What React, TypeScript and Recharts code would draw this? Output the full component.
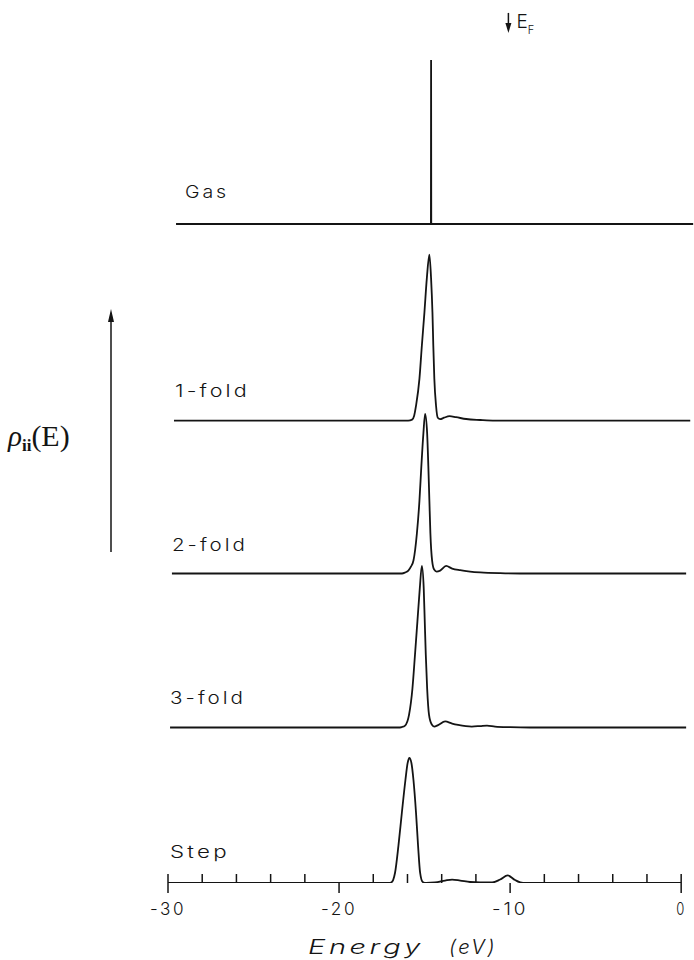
import { LineChart, Line, XAxis, YAxis, ReferenceLine } from "recharts";

// Local density of states rho_ii(E) of the adsorbate level, arbitrary units, vs energy (eV)
const GAS = [[-29.53, 0], [-14.63, 0], [-14.62, 10.0], [-14.61, 0], [0.7, 0]];
const ONE_FOLD = [
  [-29.65, 0], [-15.96, 0], [-15.73, 0.06], [-15.61, 0.3], [-15.5, 0.91], [-15.3, 2.56],
  [-15.16, 4.57], [-15.01, 6.59], [-14.87, 8.66], [-14.72, 10.12], [-14.62, 8.66],
  [-14.54, 6.59], [-14.49, 4.57], [-14.43, 2.56], [-14.33, 0.91], [-14.23, 0.18],
  [-14.09, 0.09], [-13.86, 0.18], [-13.54, 0.27], [-13.16, 0.21], [-12.57, 0.1],
  [-11.75, 0.04], [-10.88, 0], [0.53, 0],
];
const TWO_FOLD = [
  [-29.77, 0], [-16.32, 0], [-16.14, 0.06], [-15.95, 0.18], [-15.79, 0.43], [-15.65, 0.79],
  [-15.45, 2.44], [-15.3, 4.45], [-15.19, 6.52], [-15.07, 8.54], [-14.97, 9.73],
  [-14.85, 8.54], [-14.78, 6.52], [-14.72, 4.45], [-14.66, 2.44], [-14.56, 0.79],
  [-14.44, 0.24], [-14.3, 0.12], [-14.09, 0.18], [-13.74, 0.46], [-13.39, 0.3],
  [-12.92, 0.2], [-12.34, 0.12], [-11.75, 0.07], [-10.58, 0.02], [-9.42, 0], [0.29, 0],
];
const THREE_FOLD = [
  [-29.88, 0], [-16.55, 0], [-16.33, 0.03], [-16.14, 0.12], [-15.91, 0.77], [-15.71, 2.38],
  [-15.56, 4.45], [-15.42, 6.46], [-15.28, 8.48], [-15.16, 9.85], [-15.05, 8.48],
  [-14.99, 6.46], [-14.93, 4.45], [-14.85, 2.38], [-14.74, 0.77], [-14.58, 0.18],
  [-14.44, 0.06], [-14.21, 0.15], [-13.8, 0.37], [-13.39, 0.24], [-13.04, 0.16],
  [-12.24, 0.06], [-11.75, 0.09], [-11.35, 0.12], [-10.88, 0.06], [-10.0, 0.02],
  [-8.83, 0], [0.29, 0],
];
const STEP = [
  [-30, 0], [-17.13, 0], [-16.96, 0.03], [-16.84, 0.18], [-16.73, 0.61], [-16.53, 2.26],
  [-16.33, 4.27], [-16.12, 6.28], [-15.99, 7.32], [-15.89, 7.62], [-15.77, 7.32],
  [-15.65, 6.28], [-15.5, 4.27], [-15.38, 2.26], [-15.26, 0.61], [-15.11, 0.06],
  [-14.91, 0], [-14.39, 0.03], [-13.8, 0.15], [-13.39, 0.21], [-12.92, 0.15],
  [-12.34, 0.06], [-11.75, 0.03], [-11.05, 0.03], [-10.58, 0.21], [-10.14, 0.46],
  [-9.71, 0.18], [-9.24, 0], [0, 0],
];

const SITES = ["Gas", "1-fold", "2-fold", "3-fold", "Step"];
const CURVES = [GAS, ONE_FOLD, TWO_FOLD, THREE_FOLD, STEP];
// vertical offset of each curve in the stack
const OFFSETS = [40.18, 28.19, 18.87, 9.48, 0];

const ENERGY_TICKS = [-30, -28, -26, -24, -22, -20, -18, -16, -14, -12, -10, -8, -6, -4, -2, 0];
const LABELED_TICKS = [-30, -20, -10, 0];
const FERMI_LEVEL = -10.1;

const INK = "#141414";
const PLOT_FONT = "Inter, 'DejaVu Sans', sans-serif";

const series = CURVES.map((pts, i) => ({
  name: SITES[i],
  data: pts.map(([e, v]) => ({ e, y: v + OFFSETS[i] })),
}));

// thin, wide plotter lettering: each string stretched to its run length
const LABEL_BOX: Record<string, { dx: number; dy: number; len: number }> = {
  Gas: { dx: 9, dy: -26, len: 44 },
  "1-fold": { dx: 1, dy: -24, len: 75 },
  "2-fold": { dx: 0, dy: -23, len: 76 },
  "3-fold": { dx: 0, dy: -24, len: 76 },
  Step: { dx: 2, dy: -25, len: 60 },
};

const lettering = {
  fontFamily: PLOT_FONT,
  fontWeight: 300,
  fill: INK,
  letterSpacing: 2.5,
  lengthAdjust: "spacingAndGlyphs",
} as const;

function SiteLabel(props: any) {
  const { x, y, index, name } = props;
  if (index !== 0) return null;
  const b = LABEL_BOX[name];
  return (
    <text x={x + b.dx} y={y + b.dy} fontSize={17} textLength={b.len} {...lettering}>
      {name}
    </text>
  );
}

function EnergyTick(props: any) {
  const { x, y, payload } = props;
  const v = payload.value;
  const major = LABELED_TICKS.includes(v);
  const up = v === -30 || v === 0 || !major ? 9 : 0;
  const down = major ? 10 : 0;
  return (
    <g>
      <line x1={x} x2={x} y1={y - up} y2={y + down} stroke={INK} strokeWidth={1.5} />
      {major && (
        <text
          x={v === 0 ? x - 5 : x - 18}
          y={y + 32}
          fontSize={17}
          textLength={v === 0 ? 10 : 36}
          {...lettering}
        >
          {String(v)}
        </text>
      )}
    </g>
  );
}

function EnergyLabel(props: any) {
  const { x, y } = props.viewBox;
  return (
    <g fontStyle="italic">
      <text x={x + 140} y={y + 71} fontSize={20} textLength={116} {...lettering}>Energy</text>
      <text x={x + 281} y={y + 71} fontSize={20} textLength={48} {...lettering}>(eV)</text>
    </g>
  );
}

function DosLabel(props: any) {
  const { x, y } = props.viewBox;
  const ax = x + 111;
  return (
    <g>
      <text x={x + 8} y={y + 438} fontFamily="'Liberation Serif', 'DejaVu Serif', serif" fill={INK}>
        <tspan fontSize={29} fontStyle="italic">ρ</tspan>
        <tspan fontSize={17} fontWeight="bold" dy={5}>ii</tspan>
        <tspan fontSize={30} dy={-5}>(E)</tspan>
      </text>
      <line x1={ax} x2={ax} y1={y + 306} y2={y + 544} stroke={INK} strokeWidth={1.5} />
      <path d={`M${ax} ${y + 301} L${ax - 3} ${y + 314} L${ax + 3} ${y + 314} Z`} fill={INK} />
    </g>
  );
}

function FermiArrow(props: any) {
  const { x1, y1, y2 } = props;
  return (
    <g>
      <line x1={x1} x2={x1} y1={y1} y2={y2 - 6} stroke={INK} strokeWidth={1.5} />
      <path d={`M${x1} ${y2} L${x1 - 3} ${y2 - 10} L${x1 + 3} ${y2 - 10} Z`} fill={INK} />
      <text x={x1 + 8} y={y1 + 15} fontFamily={PLOT_FONT} fontWeight={300} fontSize={19} fill={INK}>
        E<tspan fontSize={11} dy={6}>F</tspan>
      </text>
    </g>
  );
}

export default function App() {
  return (
    <div style={{ position: "absolute", left: 0, top: 0, background: "#fff" }}>
      <LineChart width={694} height={960} margin={{ top: 8, right: 0, bottom: 0, left: 0 }}>
        <XAxis
          type="number"
          dataKey="e"
          domain={[-30, 0.75]}
          allowDataOverflow
          ticks={ENERGY_TICKS}
          interval={0}
          axisLine={false}
          tickLine={false}
          tickSize={0}
          tickMargin={0}
          height={77}
          tick={(p: any) => <EnergyTick {...p} />}
          label={{ content: (p: any) => <EnergyLabel {...p} /> }}
        />
        <YAxis
          type="number"
          domain={[0, 53.35]}
          allowDataOverflow
          width={168}
          axisLine={false}
          tickLine={false}
          tick={false}
          label={{ content: (p: any) => <DosLabel {...p} /> }}
        />
        {series.map((s) => (
          <Line
            key={s.name}
            data={s.data}
            dataKey="y"
            type={s.name === "Gas" ? "linear" : "monotone"}
            stroke={INK}
            strokeWidth={1.8}
            dot={false}
            activeDot={false}
            isAnimationActive={false}
            label={(p: any) => <SiteLabel key={p.index} {...p} name={s.name} />}
          />
        ))}
        <ReferenceLine
          segment={[{ x: FERMI_LEVEL, y: 53.05 }, { x: FERMI_LEVEL, y: 51.83 }]}
          ifOverflow="visible"
          shape={(p: any) => <FermiArrow {...p} />}
        />
      </LineChart>
    </div>
  );
}
